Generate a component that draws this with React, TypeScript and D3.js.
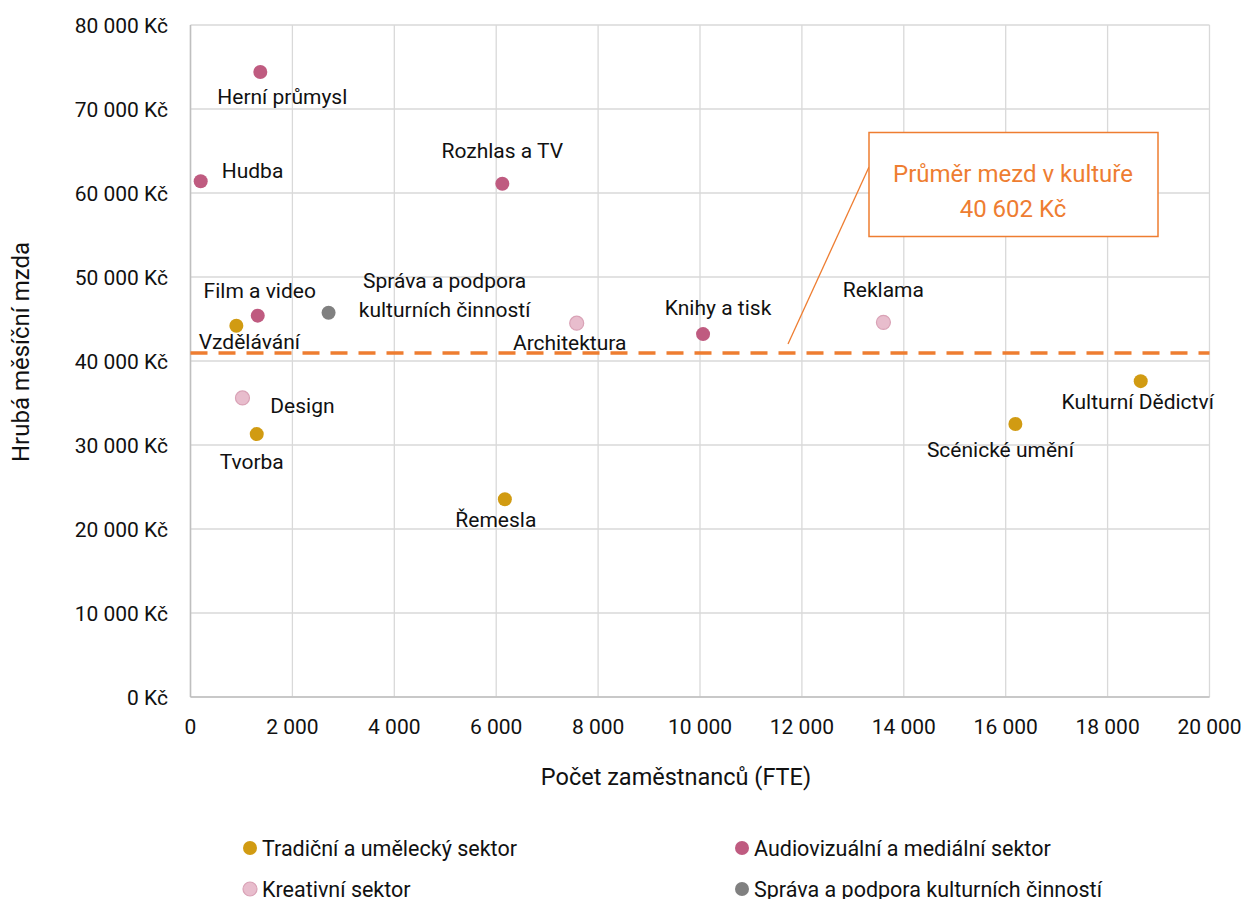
import React from "react";
import * as d3 from "d3";

const names = ["Herní průmysl","Hudba","Rozhlas a TV","Film a video","Vzdělávání","Správa a podpora|kulturních činností","Architektura","Knihy a tisk","Reklama","Kulturní Dědictví","Scénické umění","Design","Tvorba","Řemesla"];
const employees = [1370, 200, 6120, 1320, 900, 2710, 7580, 10060, 13600, 18650, 16190, 1020, 1300, 6170];
const wages = [74400, 61400, 61100, 45400, 44200, 45750, 44500, 43200, 44600, 37600, 32500, 35600, 31300, 23550];
const sectorOf = [1, 1, 1, 1, 0, 3, 2, 1, 2, 0, 0, 2, 0, 0];
const sectors = ["Tradiční a umělecký sektor","Audiovizuální a mediální sektor","Kreativní sektor","Správa a podpora kulturních činností"];
const xTicks = [0, 2000, 4000, 6000, 8000, 10000, 12000, 14000, 16000, 18000, 20000];
const yTicks = [0, 10000, 20000, 30000, 40000, 50000, 60000, 70000, 80000];
const avgLineValue = 40950;
const avgLabel = ["Průměr mezd v kultuře", "40 602 Kč"];

// label placement (style)
const labelOffsets: [number, number, string][] = [
  [22, 32, "middle"], [21, -3, "start"], [0, -26, "middle"], [2, -18, "middle"], [13, 23, "middle"],
  [116, -25, "middle"], [-7, 27, "middle"], [15, -19, "middle"], [0, -25, "middle"], [-3, 28, "middle"],
  [-15, 33, "middle"], [60, 15, "middle"], [-5, 35, "middle"], [-9, 28, "middle"],
];
const fills = ["#D19B12", "#BF5B80", "#E8BDCD", "#808080"];
const strokes = ["none", "none", "#D9A2B6", "none"];

const FONT = "Roboto, 'Noto Sans', sans-serif";
const fmt = (v: number) => d3.format(",")(v).replace(/,/g, "\u00a0");

export default function App() {
  const W = 1244, H = 899;
  const x = d3.scaleLinear().domain([0, 20000]).range([190.5, 1209.5]);
  const y = d3.scaleLinear().domain([0, 80000]).range([697, 25]);
  return (
    <svg width={W} height={H} style={{ position: "absolute", left: 0, top: 0, background: "#fff" }} fontFamily={FONT}>
      {xTicks.map((t) => (
        <line key={"gx" + t} x1={x(t)} x2={x(t)} y1={y(80000)} y2={y(0)} stroke="#d9d9d9" strokeWidth={1.3} />
      ))}
      {yTicks.map((t) => (
        <line key={"gy" + t} x1={x(0)} x2={x(20000)} y1={y(t)} y2={y(t)} stroke="#d9d9d9" strokeWidth={1.3} />
      ))}
      <line x1={x(0)} x2={x(0)} y1={y(80000)} y2={y(0)} stroke="#bfbfbf" strokeWidth={1.5} />
      <line x1={x(0)} x2={x(20000)} y1={y(0)} y2={y(0)} stroke="#bfbfbf" strokeWidth={1.5} />
      {yTicks.map((t) => (
        <text key={"ty" + t} x={168} y={y(t) + 7.5} textAnchor="end" fontSize={21} fill="#111">{fmt(t)} Kč</text>
      ))}
      {xTicks.map((t) => (
        <text key={"tx" + t} x={x(t)} y={734} textAnchor="middle" fontSize={21} fill="#111">{fmt(t)}</text>
      ))}
      <text x={676} y={785} textAnchor="middle" fontSize={23.5} fill="#111">Počet zaměstnanců (FTE)</text>
      <text transform={`translate(29,352) rotate(-90)`} textAnchor="middle" fontSize={24} fill="#111">Hrubá měsíční mzda</text>
      <line x1={x(0)} x2={x(20000)} y1={y(avgLineValue)} y2={y(avgLineValue)} stroke="#EE7D31" strokeWidth={3.5} strokeDasharray="17 11" />
      <line x1={869} y1={167} x2={788} y2={344} stroke="#EE7D31" strokeWidth={1.3} />
      <rect x={869} y={132.5} width={289} height={104} fill="#fff" stroke="#EE7D31" strokeWidth={1.5} />
      <text x={1013} y={182} textAnchor="middle" fontSize={24} fill="#EE7D31">{avgLabel[0]}</text>
      <text x={1013} y={217} textAnchor="middle" fontSize={24} fill="#EE7D31">{avgLabel[1]}</text>
      {names.map((n, i) => {
        const s = sectorOf[i];
        return (
          <circle key={"c" + i} cx={x(employees[i])} cy={y(wages[i])} r={7} fill={fills[s]} stroke={strokes[s]} strokeWidth={1.2} />
        );
      })}
      {names.map((n, i) => {
        const [dx, dy, anchor] = labelOffsets[i];
        const lines = n.split("|");
        return (
          <text key={"l" + i} x={x(employees[i]) + dx} y={y(wages[i]) + dy} textAnchor={anchor as any} fontSize={21} fill="#111">
            {lines.map((ln, k) => (
              <tspan key={k} x={x(employees[i]) + dx} dy={k === 0 ? 0 : 29}>{ln}</tspan>
            ))}
          </text>
        );
      })}
      {sectors.map((s, i) => {
        const cx = i % 2 === 0 ? 250 : 742;
        const cy = i < 2 ? 848 : 889;
        return (
          <g key={"lg" + i}>
            <circle cx={cx} cy={cy} r={7} fill={fills[i]} stroke={strokes[i]} strokeWidth={1.2} />
            <text x={cx + 12} y={cy + 7.5} fontSize={21.5} fill="#111">{s}</text>
          </g>
        );
      })}
    </svg>
  );
}
